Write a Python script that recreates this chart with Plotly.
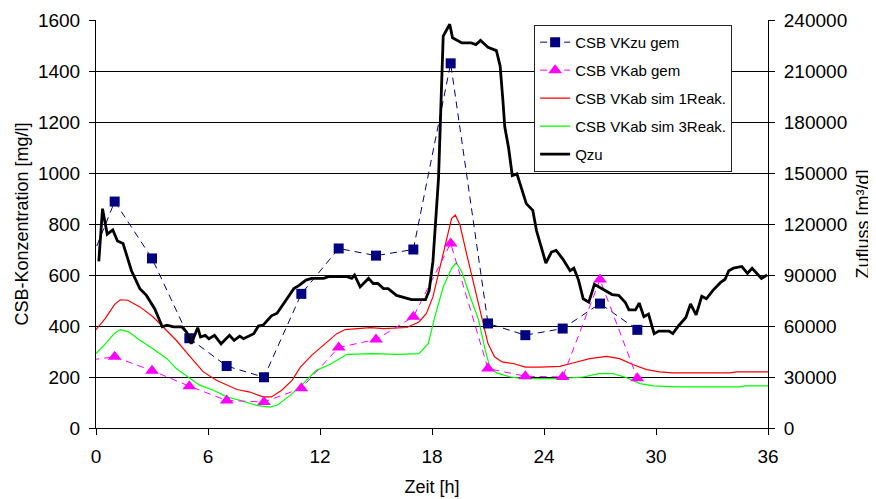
import plotly.graph_objects as go

# --- data -------------------------------------------------------------
t_meas = [1, 3, 5, 7, 9, 11, 13, 15, 17, 19, 21, 23, 25, 27, 29]
csb_vkzu_gem = [888, 665, 352, 243, 199, 526, 704, 676, 700, 1430, 410, 364, 390, 488, 385]
csb_vkab_gem = [279, 225, 164, 108, 102, 156, 316, 347, 436, 724, 233, 203, 200, 582, 195]

# lead-in values of the measured series (line only, left of the axis)
t_lead = [-0.2, 1]
vkzu_lead = [670, 888]
vkab_lead = [268, 279]

t_sim1 = [-0.25, 0, 0.5, 1.0, 1.3, 1.7, 2.35, 3.05, 3.6, 4.3, 5.05, 5.75, 6.45, 7.2, 7.55,
          8.25, 8.95, 9.4, 9.95, 10.5, 10.95, 11.55, 12.2, 12.9, 13.35, 13.95, 14.7, 15.4,
          16.65, 17.3, 17.7, 18.05, 18.6, 19.05, 19.25, 19.5, 19.85, 20.2, 20.65, 21.0,
          21.35, 21.75, 22.35, 23.0, 23.8, 24.85, 25.55, 26.45, 27.35, 28.05, 28.75, 29.5,
          30.2, 30.9, 33.95, 34.3, 36]
csb_sim_1reak = [364, 385, 430, 485, 503, 501, 475, 436, 396, 344, 279, 220, 187, 161, 151,
                 141, 122, 122, 148, 187, 239, 285, 325, 370, 386, 390, 394, 390,
                 394, 416, 449, 514, 684, 822, 835, 796, 684, 580, 436, 331,
                 279, 259, 253, 239, 239, 242, 255, 272, 281, 272, 249, 229,
                 220, 216, 216, 220, 220]

t_sim3 = [-0.25, 0, 0.5, 1.0, 1.3, 1.75, 2.35, 3.05, 3.8, 4.3, 5.05, 5.55, 6.3, 7.0, 7.7,
          8.6, 9.3, 9.7, 10.4, 11.1, 11.8, 12.55, 13.45, 14.85, 16.1, 17.3, 17.8, 18.15,
          18.6, 19.05, 19.3, 19.6, 20.05, 20.5, 20.85, 21.1, 21.45, 22.2, 22.9, 24.85,
          26.1, 26.95, 27.7, 28.4, 29.15, 29.85, 31.1, 34.5, 34.75, 36]
csb_sim_3reak = [272, 290, 330, 372, 386, 377, 344, 311, 272, 233, 194, 168, 148, 122, 109,
                 89, 82, 89, 128, 174, 226, 250, 289, 292, 289, 292, 331, 436,
                 553, 626, 648, 612, 514, 423, 305, 239, 216, 200, 194, 194,
                 200, 213, 213, 198, 174, 165, 161, 161, 165, 165]

t_q = [0.15, 0.35, 0.6, 0.9, 1.15, 1.45, 1.9, 2.35, 2.7, 3.15, 3.55, 3.8, 4.15, 4.6, 4.85,
       5.1, 5.45, 5.6, 5.85, 6.05, 6.35, 6.7, 7.15, 7.4, 7.7, 7.9, 8.45, 8.7, 8.95, 9.4,
       9.7, 10.2, 10.6, 10.9, 11.25, 11.55, 12.2, 12.45, 13.45, 13.7, 13.85, 14.15, 14.6,
       14.85, 15.1, 15.4, 15.65, 16.1, 16.45, 16.9, 17.65, 17.85, 18.05, 18.35, 18.6,
       18.95, 19.1, 19.6, 20.1, 20.35, 20.6, 21.0, 21.45, 21.65, 21.8, 21.9, 22.1, 22.3,
       22.55, 22.7, 23.05, 23.4, 23.6, 23.85, 24.1, 24.4, 24.65, 25.0, 25.4, 25.6, 25.85,
       26.1, 26.4, 26.7, 27.1, 27.3, 27.65, 28.0, 28.35, 28.55, 28.9, 29.1, 29.35, 29.6,
       29.9, 30.15, 30.7, 30.9, 31.2, 31.6, 31.85, 32.15, 32.45, 32.7, 33.05, 33.45, 33.7,
       33.9, 34.15, 34.6, 34.9, 35.15, 35.65, 35.95]
q_zu = [98000, 129000, 114000, 116500, 110000, 108500, 92500, 82000, 78000, 70000, 59500,
        60500, 59500, 59500, 56500, 49500, 59000, 53500, 54500, 52500, 54500, 49500, 54500,
        51500, 54000, 52500, 55500, 60000, 60500, 66000, 67500, 76000, 82000, 84000, 87000,
        88000, 88000, 89000, 89000, 88000, 90000, 83000, 88000, 85000, 85000, 82000, 82000,
        78000, 77000, 75500, 75500, 81000, 98000, 147000, 230500, 237500, 229500, 226500,
        226500, 225500, 228000, 224000, 222000, 213000, 192500, 177000, 165000, 148500,
        149500, 144500, 132000, 128000, 116000, 106500, 97000, 103500, 104500, 99500, 92500,
        94000, 87000, 76000, 74000, 84500, 82000, 81000, 78500, 78000, 74000, 69500, 69500,
        73500, 65500, 67000, 55500, 57000, 57000, 55500, 60000, 65000, 73000, 66500, 77500,
        76000, 81000, 85500, 87500, 92500, 94000, 95000, 91000, 94000, 88000, 90000]

x_ticks = [0, 6, 12, 18, 24, 30, 36]

# --- figure -----------------------------------------------------------
FONT = "Liberation Sans, Arial, sans-serif"
NAVY = "#000080"
MAGENTA = "#FF00FF"

fig = go.Figure()

fig.add_trace(go.Scatter(x=t_lead, y=vkzu_lead, mode="lines", showlegend=False,
                         line=dict(color=NAVY, width=1, dash="7px,5px"), hoverinfo="skip"))
fig.add_trace(go.Scatter(x=t_lead, y=vkab_lead, mode="lines", showlegend=False,
                         line=dict(color=MAGENTA, width=1, dash="7px,5px"), hoverinfo="skip"))

fig.add_trace(go.Scatter(x=t_sim1, y=csb_sim_1reak, mode="lines", name="CSB VKab sim 1Reak.",
                         line=dict(color="#FF0000", width=1.2), legendrank=3, legendgroup="c"))
fig.add_trace(go.Scatter(x=t_sim3, y=csb_sim_3reak, mode="lines", name="CSB VKab sim 3Reak.",
                         line=dict(color="#00FF00", width=1.2), legendrank=4, legendgroup="d"))
fig.add_trace(go.Scatter(x=t_q, y=q_zu, mode="lines", name="Qzu", yaxis="y2",
                         line=dict(color="black", width=2.8), legendrank=5, legendgroup="e"))
fig.add_trace(go.Scatter(x=t_meas, y=csb_vkzu_gem, mode="lines+markers", name="CSB VKzu gem",
                         line=dict(color=NAVY, width=1, dash="7px,5px"),
                         marker=dict(symbol="square", size=10, color=NAVY),
                         legendrank=1, legendgroup="a"))
fig.add_trace(go.Scatter(x=t_meas, y=csb_vkab_gem, mode="lines+markers", name="CSB VKab gem",
                         line=dict(color=MAGENTA, width=1, dash="7px,5px"),
                         marker=dict(symbol="triangle-up", size=12, color=MAGENTA),
                         legendrank=2, legendgroup="b"))

# the page body has an 8px margin, so the figure is 8px smaller than the window
fig.update_layout(
    width=868, height=491,
    margin=dict(l=88, r=108, t=12, b=71, autoexpand=False),
    paper_bgcolor="white", plot_bgcolor="white",
    font=dict(family=FONT, size=18, color="black"),
    showlegend=True,
    legend=dict(x=0.652, y=0.988, xanchor="left", yanchor="top",
                bgcolor="white", bordercolor="#222222", borderwidth=1,
                font=dict(family=FONT, size=15, color="black"),
                traceorder="grouped", tracegroupgap=5.5),
    xaxis=dict(range=[0, 36], tickvals=x_ticks, ticktext=[str(v) for v in x_ticks],
               showgrid=False, zeroline=False, showline=True, linecolor="black", linewidth=1,
               ticks="outside", ticklen=6, tickcolor="black", automargin=False,
               tickfont=dict(size=19), ticklabelstandoff=5,
               title=dict(text="Zeit [h]", standoff=14, font=dict(size=18))),
    yaxis=dict(range=[0, 1600], dtick=200, showgrid=True, gridcolor="black", gridwidth=1,
               zeroline=False, showline=True, linecolor="black", linewidth=1,
               ticks="outside", ticklen=6, tickcolor="black", ticklabelstandoff=5,
               automargin=False, tickfont=dict(size=19),
               title=dict(text="CSB-Konzentration [mg/l]", standoff=4, font=dict(size=18))),
    yaxis2=dict(range=[0, 240000], dtick=30000, overlaying="y", side="right",
                showgrid=False, zeroline=False, showline=True, linecolor="black", linewidth=1,
                ticks="outside", ticklen=6, tickcolor="black", ticklabelstandoff=5,
                tickformat="d", automargin=False, tickfont=dict(size=19),
                title=dict(text="Zufluss [m³/d]", standoff=10, font=dict(size=18))),
)

fig.write_html("out.html")
